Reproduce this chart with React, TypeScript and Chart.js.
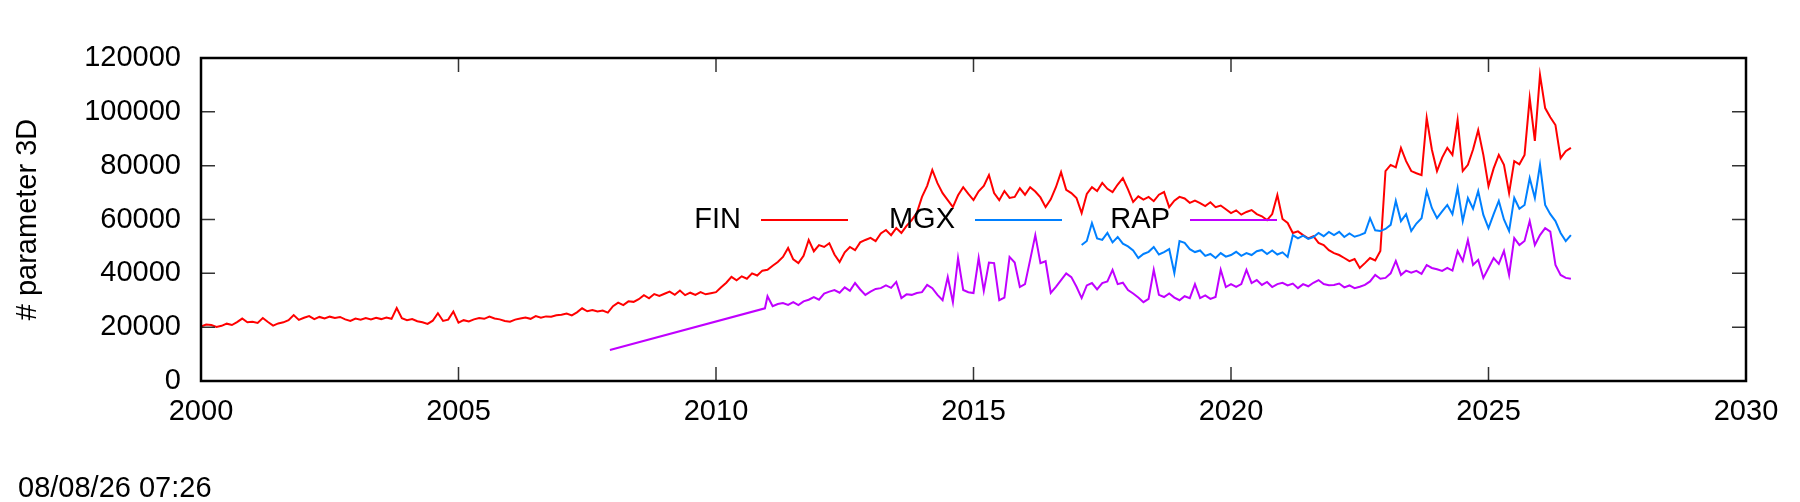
import { useEffect, useRef } from 'react';
import { Chart, registerables } from 'chart.js';

Chart.register(...registerables);

// sampling step of the hand-read series (years), ten readings per year
const STEP = 0.1;

const FIN_START = 2000;
const finValues = [
  20200, 21000, 20800, 20100, 20500, 21300, 20800, 21900, 23200, 21800,
  22000, 21600, 23400, 21900, 20600, 21400, 21800, 22600, 24500, 22700,
  23500, 24100, 23000, 23800, 23200, 23900, 23400, 23800, 22900, 22300,
  23200, 22800, 23400, 22900, 23500, 23000, 23600, 23100, 27100, 23300,
  22600, 23000, 22200, 21800, 21200, 22400, 25200, 22300, 22800, 25800,
  21700, 22600, 22100, 22900, 23400, 23100, 23900, 23200, 22900, 22300,
  22000, 22800, 23200, 23600, 23100, 24100, 23500, 24000, 23900, 24400,
  24600, 25100, 24400, 25500, 27000, 25900, 26400, 25800, 26200, 25400,
  27800, 29100, 28200, 29600, 29400, 30400, 31900, 30700, 32300, 31600,
  32400, 33200, 32000, 33600, 31900, 32800, 32000, 33000, 32200, 32600,
  33000, 34800, 36500, 38700, 37400, 38900, 38000, 40000, 39200, 41000,
  41300, 42800, 44200, 46100, 49400, 45200, 43800, 46500, 52400, 48200,
  50500, 49800, 51200, 47000, 44200, 47800, 49800, 48600, 51500, 52400,
  53200, 52000, 54800, 56100, 54200, 56800, 55000, 57600, 59800, 62500,
  68400, 72500, 78400, 73500, 69800, 67200, 64600, 69000, 72000, 69500,
  67200, 70500, 72500, 76500, 69800, 67200, 70600, 68000, 68400, 71600,
  69200, 72000, 70400, 68200, 64600, 67500, 72000, 77600, 71000, 69800,
  68000, 62400, 69500, 72000, 70600, 73600, 71400, 70200, 73000, 75400,
  71200, 66500, 68600, 67400, 68400, 66800, 69200, 70200, 64600, 67000,
  68400, 67800, 66200, 67000, 66100, 65000, 66400, 64600, 65200, 63800,
  62400, 63400, 61800, 62800, 63500, 62000, 61200, 59800, 62000, 69100,
  60200, 58700, 55000, 55600, 54200, 53000, 53800, 51300, 50500, 48600,
  47500, 46800, 45700, 44500, 45300, 42000, 43800, 45700, 44800, 48300,
  78000, 80300, 79400, 86600, 81700, 78000, 77200, 76500, 97700, 86000,
  78000, 83000, 86600, 84000, 97000, 78000, 80300, 86000, 93200, 84000,
  72400, 79000, 84000, 80300, 69800, 81700, 80500, 84000, 105100, 89200,
  113700, 101400, 98000, 95100, 82800, 85400, 86600,
];

const MGX_START = 2017.1;
const mgxValues = [
  50500, 52000, 58700, 53000, 52400, 55000, 51500, 53500, 51000,
  50000, 48500, 45700, 47200, 48000, 49800, 47000, 47900, 49000, 40100,
  52000, 51300, 49000, 47900, 48500, 46500, 47200, 45700, 47500, 46200,
  46800, 48000, 46500, 47500, 46800, 48200, 48700, 47200, 48500, 47000,
  47800, 46100, 54200, 53000, 54000, 52800, 53500, 55000, 53800, 55400,
  54200, 55400, 53500, 54800, 53600, 54200, 55000, 60500, 56000, 55700,
  56500, 58000, 66900, 59400, 62000, 55700, 58500, 60500, 70600, 64300,
  60500, 63000, 65400, 62000, 71700, 59400, 68000, 64000, 70600, 61700,
  56800, 62000, 66900, 60000, 55700, 68000, 64000, 65400, 75400, 68000,
  80300, 65400, 62000, 59400, 55000, 52000, 54200,
];

// RAP: two early readings joined by a straight segment, then regular samples
const rapEarlyYears = [2007.94, 2010.95];
const rapEarlyValues = [11500, 27000];
const RAP_START = 2011;
const rapValues = [
  31500, 27800, 28600, 29000, 28300, 29300, 28200, 29600, 30200, 31200,
  30200, 32500, 33200, 33800, 32800, 34800, 33500, 36400, 34000, 32000,
  33200, 34200, 34500, 35500, 34600, 36800, 30800, 32200, 32000, 32700,
  33000, 35700, 34500, 32000, 30000, 38600, 29300, 45700, 33800, 33000,
  32700, 45700, 33500, 44000, 43800, 30000, 31000, 46100, 44000, 34900,
  36000, 45000, 54200, 43800, 44500, 32700, 35000, 37500, 40000, 38600,
  35000, 30800, 35500, 36400, 34000, 36400, 37000, 41300, 36000, 36500,
  33800, 32500, 31000, 29300, 30500, 41300, 32000, 31200, 32500, 31000,
  30000, 31500, 30800, 36000, 30800, 31800, 30500, 31200, 41300, 34900,
  36000, 35000, 36000, 41300, 36400, 37500, 35700, 36800, 34900, 36000,
  36500, 35500, 36200, 34500, 36000, 35200, 36500, 37500, 36000, 35600,
  35700, 36200, 34800, 35500, 34500, 35000, 35700, 37000, 39400, 38000,
  38300, 40000, 44600, 39400, 41000, 40200, 40900, 39800, 43100, 42000,
  41500, 40900, 42000, 41000, 48300, 44600, 52400, 43100, 45000, 38300,
  42000, 45700, 43500, 48300, 39400, 53100, 50500, 52000, 59400, 50500,
  54200, 56800, 55500, 43100, 39400, 38300, 38000,
];

const xTicks = [2000, 2005, 2010, 2015, 2020, 2025, 2030];
const yTicks = [0, 20000, 40000, 60000, 80000, 100000, 120000];

const seriesNames = ['FIN', 'MGX', 'RAP'];
const seriesColors = ['#ff0000', '#0080ff', '#c000ff'];
const yTitle = '# parameter 3D';
const stamp = '08/08/26 07:26';

const FONT = "'Liberation Sans', Arial, Helvetica, sans-serif";
const SIZE = 29;

// key layout (text right edge, sample line after it)
const legendRight = [741, 955, 1170];
const legendY = 220;

const toPoints = (start: number, values: number[]) =>
  values.map((v, i) => ({ x: start + i * STEP, y: v }));

const framePlugin = {
  id: 'gnuFrame',
  afterDatasetsDraw(chart: any) {
    const { ctx, chartArea, scales } = chart;
    const { left, right, top, bottom } = chartArea;
    ctx.save();

    // key
    ctx.font = `${SIZE}px ${FONT}`;
    ctx.textBaseline = 'middle';
    ctx.textAlign = 'right';
    seriesNames.forEach((name: string, i: number) => {
      const tx = legendRight[i];
      ctx.fillStyle = '#000';
      ctx.fillText(name, tx, legendY);
      ctx.strokeStyle = seriesColors[i];
      ctx.lineWidth = 2;
      ctx.beginPath();
      ctx.moveTo(tx + 20, legendY);
      ctx.lineTo(tx + 107, legendY);
      ctx.stroke();
    });

    // inward ticks on all four sides
    ctx.strokeStyle = '#333';
    ctx.lineWidth = 1.5;
    ctx.beginPath();
    for (const v of xTicks) {
      const px = scales.x.getPixelForValue(v);
      ctx.moveTo(px, bottom);
      ctx.lineTo(px, bottom - 14);
      ctx.moveTo(px, top);
      ctx.lineTo(px, top + 14);
    }
    for (const v of yTicks) {
      const py = scales.y.getPixelForValue(v);
      ctx.moveTo(left, py);
      ctx.lineTo(left + 14, py);
      ctx.moveTo(right, py);
      ctx.lineTo(right - 14, py);
    }
    ctx.stroke();

    // border
    ctx.strokeStyle = '#000';
    ctx.lineWidth = 2.5;
    ctx.strokeRect(left, top, right - left, bottom - top);

    // time stamp
    ctx.fillStyle = '#000';
    ctx.textAlign = 'left';
    ctx.textBaseline = 'alphabetic';
    ctx.fillText(stamp, 18, 497);

    ctx.restore();
  },
};

export default function App() {
  const canvasRef = useRef<HTMLCanvasElement>(null);
  const chartRef = useRef<Chart | null>(null);

  useEffect(() => {
    if (!canvasRef.current) return;
    const font = { family: FONT, size: SIZE };

    chartRef.current = new Chart(canvasRef.current, {
      type: 'line',
      data: {
        datasets: [
          {
            label: seriesNames[0],
            data: toPoints(FIN_START, finValues),
            borderColor: seriesColors[0],
            order: 3,
          },
          {
            label: seriesNames[1],
            data: toPoints(MGX_START, mgxValues),
            borderColor: seriesColors[1],
            order: 2,
          },
          {
            label: seriesNames[2],
            data: [
              ...rapEarlyYears.map((yr, i) => ({ x: yr, y: rapEarlyValues[i] })),
              ...toPoints(RAP_START, rapValues),
            ],
            borderColor: seriesColors[2],
            order: 1,
          },
        ],
      },
      options: {
        animation: false,
        responsive: true,
        maintainAspectRatio: false,
        elements: {
          point: { radius: 0 },
          line: { borderWidth: 2, tension: 0, fill: false },
        },
        layout: { padding: { top: 58, right: 54, bottom: 0, left: 0 } },
        plugins: {
          legend: { display: false },
          tooltip: { enabled: false },
        },
        scales: {
          x: {
            type: 'linear',
            min: 2000,
            max: 2030,
            grid: { display: false, drawTicks: false },
            border: { display: false },
            afterBuildTicks: (s: any) => {
              s.ticks = xTicks.map((v) => ({ value: v }));
            },
            afterFit: (s: any) => {
              s.height = 121;
            },
            ticks: {
              font,
              color: '#000',
              padding: 14,
              maxRotation: 0,
              autoSkip: false,
              callback: (v: any) => String(v),
            },
          },
          y: {
            min: 0,
            max: 120000,
            grid: { display: false, drawTicks: false },
            border: { display: false },
            afterBuildTicks: (s: any) => {
              s.ticks = yTicks.map((v) => ({ value: v }));
            },
            afterFit: (s: any) => {
              s.width = 201;
            },
            title: {
              display: true,
              text: yTitle,
              font,
              color: '#000',
              padding: { top: 11, bottom: 0 },
            },
            ticks: {
              font,
              color: '#000',
              padding: 20,
              callback: (v: any) => String(v),
            },
          },
        },
      },
      plugins: [framePlugin],
    });

    return () => {
      chartRef.current?.destroy();
    };
  }, []);

  return (
    <div
      style={{
        position: 'absolute',
        left: 0,
        top: 0,
        width: 1800,
        height: 502,
        background: '#fff',
      }}
    >
      <canvas ref={canvasRef} />
    </div>
  );
}
